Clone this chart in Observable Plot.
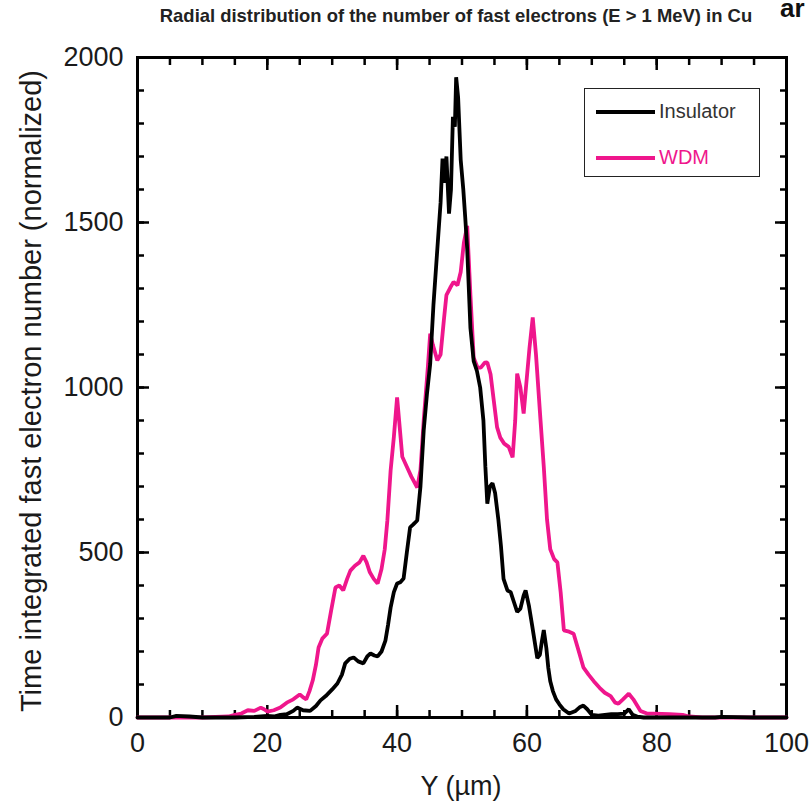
<!DOCTYPE html>
<html><head><meta charset="utf-8">
<script src="https://cdn.jsdelivr.net/npm/d3@7"></script>
<script src="https://cdn.jsdelivr.net/npm/@observablehq/plot@0.6"></script>
<style>
html,body{margin:0;padding:0;background:#fff;width:810px;height:807px;overflow:hidden}
#wrap{position:relative;width:810px;height:807px}
#chart{position:absolute;left:0;top:0}
.lbl{position:absolute;white-space:nowrap;font-family:"Liberation Sans",Arial,sans-serif;color:#1a1a1a}
#title{left:456px;top:5px;transform:translateX(-50%) scaleX(0.97);font-weight:bold;font-size:19px;color:#222}
#frag{left:780px;top:-7px;font-weight:bold;font-size:26px;color:#111}
#xlab{left:461px;top:771px;transform:translateX(-50%);font-size:27px}
#ylab{left:31px;top:391px;transform:translate(-50%,-50%) rotate(-90deg);font-size:29px}
#legend{position:absolute;left:584px;top:88px;width:174px;height:87px;border:1.5px solid #222;background:#fff}
.lg{position:absolute;left:11px;width:59px;height:4px}
.lt{position:absolute;left:74px;font-family:"Liberation Sans",Arial,sans-serif;font-size:20px;line-height:22px}
</style></head>
<body><div id="wrap">
<div id="chart"></div>
<div id="title" class="lbl">Radial distribution of the number of fast electrons (E &gt; 1 MeV) in Cu</div>
<div id="frag" class="lbl">ar</div>
<div id="xlab" class="lbl">Y (µm)</div>
<div id="ylab" class="lbl">Time integrated fast electron number (normalized)</div>
<div id="legend">
  <div class="lg" style="top:21px;background:#000"></div>
  <div class="lt" style="top:11px;color:#333">Insulator</div>
  <div class="lg" style="top:67px;background:#ef168c"></div>
  <div class="lt" style="top:57px;color:#ef168c">WDM</div>
</div>
</div>
<script>
// Insulator series
const xIns = [0,5,6,8,10,15,18,20,21,22,23,24,24.6,25.5,26.6,27.5,28.2,29,30,30.8,31.5,32,32.7,33.3,34,34.8,35.4,35.9,36.5,37,37.6,38.2,38.6,39,39.5,40,40.5,41,41.5,42,42.5,43.1,43.6,44.1,44.6,45.1,45.6,46.2,46.7,47,47.3,47.6,48,48.3,48.6,48.9,49.1,49.4,49.8,50.2,50.5,50.8,51.3,51.8,52.3,52.8,53.3,53.6,53.9,54.3,54.7,55.1,55.6,56,56.4,57,57.5,58,58.5,59,59.5,59.8,60.3,60.8,61.2,61.6,62,62.3,62.6,63,63.3,63.6,64,64.5,65,65.6,66.5,67.5,68.2,68.7,69.3,70,71,72,73,74,75,75.7,76.3,77,78,85,89,90,95,100];
const yIns = [0,0,5,3,0,0,2,5,3,8,10,20,30,22,20,35,52,65,85,103,130,164,178,182,170,164,185,194,188,185,200,233,280,333,380,406,410,421,500,576,585,597,700,870,980,1072,1250,1420,1560,1694,1620,1700,1527,1600,1820,1790,1940,1880,1690,1600,1515,1420,1180,1080,1050,1000,900,760,648,700,710,680,600,520,420,385,380,350,320,330,370,385,340,280,230,180,190,230,265,210,150,110,80,55,40,25,12,20,32,36,25,8,6,8,10,10,12,25,8,3,0,0,0,2,0,0];
// WDM series
const xWdm = [0,10,14,15,16,17,18,19,19.5,20,21,22,23,24,25,25.6,26,26.5,27,27.5,27.9,28.5,29.2,29.8,30.5,31.1,31.7,32.3,32.8,33.5,34.2,34.8,35.3,35.8,36.4,37,37.6,38.1,38.5,39,39.5,40,40.4,40.8,41.5,42.2,43.1,43.6,44.1,44.7,45.1,45.5,46.2,46.7,47.2,47.6,48.2,48.7,49.3,49.8,50.3,50.8,51.3,51.8,52.4,52.9,53.5,53.9,54.4,54.9,55.4,55.9,56.5,57.2,57.8,58.2,58.5,59,59.5,59.9,60.4,60.9,61.4,62.1,62.6,63.1,63.6,64.2,64.7,65.2,65.7,66.5,67.2,68,68.7,69.5,70.3,71.2,72,72.9,73.6,74.1,74.8,75.7,76.4,77.5,78.5,79.5,82,84,85,87,100];
const yWdm = [0,0,3,8,12,22,20,30,25,18,22,30,45,55,70,60,55,80,112,160,212,240,254,320,394,400,385,420,445,460,470,490,470,440,420,406,450,510,597,748,850,970,880,790,760,730,697,750,900,1052,1163,1130,1082,1100,1203,1280,1303,1320,1310,1350,1440,1490,1280,1090,1060,1060,1075,1076,1040,960,880,848,830,820,788,900,1042,1000,921,1010,1120,1212,1100,900,760,600,510,480,470,380,264,260,254,200,152,130,110,90,75,65,45,42,55,72,55,20,12,12,10,8,3,0,0];
// Axis ticks
const xMajor = [0,20,40,60,80,100];
const xMinor = d3.range(0,101,5);
const yMajor = [0,500,1000,1500,2000];
const yMinor = d3.range(0,2001,100);

const ins = xIns.map((x,i)=>({x, y:yIns[i]}));
const wdm = xWdm.map((x,i)=>({x, y:yWdm[i]}));
const blank = () => "";
const tk = {stroke:"#000", strokeWidth:2.5, tickFormat: blank, label: null};
const minorLen = 7, majorLen = 12;

const chart = Plot.plot({
  width: 810, height: 807,
  marginLeft: 137, marginRight: 24, marginTop: 57, marginBottom: 90,
  x: {domain:[0,100]},
  y: {domain:[0,2000]},
  style: {fontFamily:"'Liberation Sans', Arial, sans-serif", fontSize:"27px", color:"#1a1a1a", background:"transparent"},
  marks: [
    Plot.axisX({anchor:"bottom", ticks:xMinor, tickSize:minorLen, dy:-minorLen, ...tk}),
    Plot.axisX({anchor:"bottom", ticks:xMajor, tickSize:majorLen, dy:-majorLen, ...tk}),
    Plot.axisX({anchor:"top", ticks:xMinor, tickSize:minorLen, dy:minorLen, ...tk}),
    Plot.axisX({anchor:"top", ticks:xMajor, tickSize:majorLen, dy:majorLen, ...tk}),
    Plot.axisY({anchor:"left", ticks:yMinor, tickSize:minorLen, dx:minorLen, ...tk}),
    Plot.axisY({anchor:"left", ticks:yMajor, tickSize:majorLen, dx:majorLen, ...tk}),
    Plot.axisY({anchor:"right", ticks:yMinor, tickSize:minorLen, dx:-minorLen, ...tk}),
    Plot.axisY({anchor:"right", ticks:yMajor, tickSize:majorLen, dx:-majorLen, ...tk}),
    Plot.axisX({anchor:"bottom", ticks:xMajor, tickSize:0, tickPadding:15, tickFormat:d3.format("d"), label:null, fill:"#1a1a1a"}),
    Plot.axisY({anchor:"left", ticks:yMajor, tickSize:0, tickPadding:14, tickFormat:d3.format("d"), label:null, fill:"#1a1a1a"}),
    Plot.frame({stroke:"#000", strokeWidth:3}),
    Plot.line(wdm, {x:"x", y:"y", stroke:"#ef168c", strokeWidth:3.8, strokeLinejoin:"miter"}),
    Plot.line(ins, {x:"x", y:"y", stroke:"#000", strokeWidth:3.8, strokeLinejoin:"miter"})
  ]
});
document.getElementById("chart").appendChild(chart);
</script>
</body></html>
